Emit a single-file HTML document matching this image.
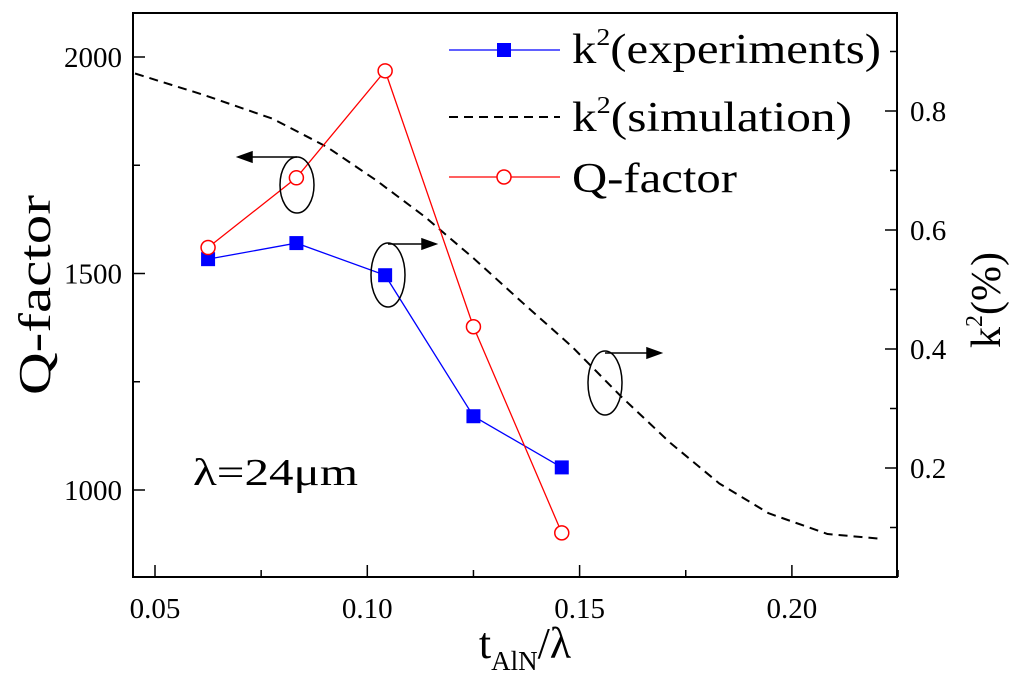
<!DOCTYPE html>
<html><head><meta charset="utf-8"><style>
body{margin:0;background:#fff}
svg{display:block;font-family:"Liberation Serif",serif}
</style></head><body>
<svg id="chart" width="1024" height="686" viewBox="0 0 1024 686">
<g id="axes"></g><g id="series"></g>
<g>
 <line x1="449" y1="50" x2="560" y2="50" stroke="#0000ff" stroke-width="1.3"/>
 <rect x="497" y="43" width="14" height="14" fill="#0000ff"/>
 <text x="572" y="63" font-size="42" textLength="309" lengthAdjust="spacingAndGlyphs">k<tspan font-size="24" dy="-18">2</tspan><tspan dy="18">(experiments)</tspan></text>
 <line x1="449" y1="117" x2="560" y2="117" stroke="#000" stroke-width="2" stroke-dasharray="9,6"/>
 <text x="572" y="131" font-size="42" textLength="280" lengthAdjust="spacingAndGlyphs">k<tspan font-size="24" dy="-18">2</tspan><tspan dy="18">(simulation)</tspan></text>
 <line x1="449" y1="177" x2="560" y2="177" stroke="#ff0000" stroke-width="1.3"/>
 <circle cx="504" cy="177" r="7" fill="#fff" stroke="#ff0000" stroke-width="1.5"/>
 <text x="572" y="192" font-size="42" textLength="165" lengthAdjust="spacingAndGlyphs">Q-factor</text>
</g>
<g fill="none" stroke="#000" stroke-width="1.5">
 <ellipse cx="297" cy="185" rx="17" ry="28"/>
 <line x1="297" y1="157" x2="248" y2="157"/><polygon points="238,157 252,152 252,162" fill="#000"/>
 <ellipse cx="388" cy="275" rx="17" ry="32"/>
 <line x1="388" y1="244" x2="425" y2="244"/><polygon points="436,244 422,239 422,249" fill="#000"/>
 <ellipse cx="605" cy="383" rx="17" ry="32"/>
 <line x1="605" y1="353" x2="650" y2="353"/><polygon points="661,353 647,348 647,358" fill="#000"/>
</g>
<text x="193" y="485" font-size="38" textLength="165" lengthAdjust="spacingAndGlyphs">λ=24μm</text>
<text transform="translate(50,295) rotate(-90)" text-anchor="middle" font-size="46" textLength="200" lengthAdjust="spacingAndGlyphs">Q-factor</text>
<text transform="translate(1000,300) rotate(-90)" text-anchor="middle" font-size="42">k<tspan font-size="24" dy="-18">2</tspan><tspan dy="18">(%)</tspan></text>
<text x="525" y="658" text-anchor="middle" font-size="44">t<tspan font-size="27" dy="12">AlN</tspan><tspan dy="-12">/λ</tspan></text>
</svg>
<script>
const xVals=[0.0625,0.0833,0.1042,0.125,0.1458];
const qFactor=[1560,1721,1968,1377,901];
const k2Exp=[0.551,0.578,0.524,0.287,0.201];
const simX=[0.0453,0.0615,0.0777,0.0904,0.102,0.1136,0.1251,0.1367,0.1482,0.1598,0.1714,0.1829,0.1945,0.2084,0.2211];
const simK2=[0.863,0.827,0.787,0.740,0.684,0.622,0.552,0.477,0.404,0.320,0.242,0.174,0.124,0.089,0.081];
const xTicks=[0.05,0.10,0.15,0.20];
const xTickLabels=["0.05","0.10","0.15","0.20"];
const qTicks=[1000,1500,2000];
const kTicks=[0.2,0.4,0.6,0.8];
const kTickLabels=["0.2","0.4","0.6","0.8"];

const L=133,R=897,T=13,B=577;
const X=v=>155+(v-0.05)*4246;
const YQ=v=>57+(2000-v)*0.433;
const YK=v=>111+(0.8-v)*595;
const NS="http://www.w3.org/2000/svg";
function mk(p,t,a){const e=document.createElementNS(NS,t);for(const k in a)e.setAttribute(k,a[k]);p.appendChild(e);return e;}
const ax=document.getElementById('axes'),se=document.getElementById('series');
const fr=mk(ax,'rect',{x:L,y:T,width:R-L,height:B-T,fill:'none',stroke:'#000','stroke-width':2});


for(let i=0;i<=7;i++){const v=0.05+i*0.025;mk(ax,'line',{x1:X(v),x2:X(v),y1:B,y2:B-(i%2?7:12),stroke:'#000','stroke-width':1.5});}
xTicks.forEach((v,i)=>{const t=mk(ax,'text',{x:X(v),y:618,'text-anchor':'middle','font-size':29});t.textContent=xTickLabels[i];

});
for(let v=1000;v<=2000;v+=250){mk(ax,'line',{x1:L,x2:L+(v%500?7:12),y1:YQ(v),y2:YQ(v),stroke:'#000','stroke-width':1.5});}
qTicks.forEach(v=>{const t=mk(ax,'text',{x:122,y:YQ(v)+10,'text-anchor':'end','font-size':29});t.textContent=v;

});
for(let i=1;i<=9;i++){const v=i/10;mk(ax,'line',{x1:R,x2:R-(i%2?7:12),y1:YK(v),y2:YK(v),stroke:'#000','stroke-width':1.5});}
kTicks.forEach((v,i)=>{const t=mk(ax,'text',{x:910,y:YK(v)+10,'font-size':29});t.textContent=kTickLabels[i];

});

const sim=mk(se,'polyline',{points:simX.map((x,i)=>X(x)+','+YK(simK2[i])).join(' '),fill:'none',stroke:'#000','stroke-width':2,'stroke-dasharray':'9,6','stroke-linejoin':'round'});


const bl=mk(se,'polyline',{points:xVals.map((x,i)=>X(x)+','+YK(k2Exp[i])).join(' '),fill:'none',stroke:'#0000ff','stroke-width':1.3});


const rl=mk(se,'polyline',{points:xVals.map((x,i)=>X(x)+','+YQ(qFactor[i])).join(' '),fill:'none',stroke:'#ff0000','stroke-width':1.3});


xVals.forEach((x,i)=>{
 const r=mk(se,'rect',{x:X(x)-7,y:YK(k2Exp[i])-7,width:14,height:14,fill:'#0000ff'});
 
 
 const c=mk(se,'circle',{cx:X(x),cy:YQ(qFactor[i]),r:7,fill:'#fff',stroke:'#ff0000','stroke-width':1.5});
 
 
});
</script>
</body></html>
